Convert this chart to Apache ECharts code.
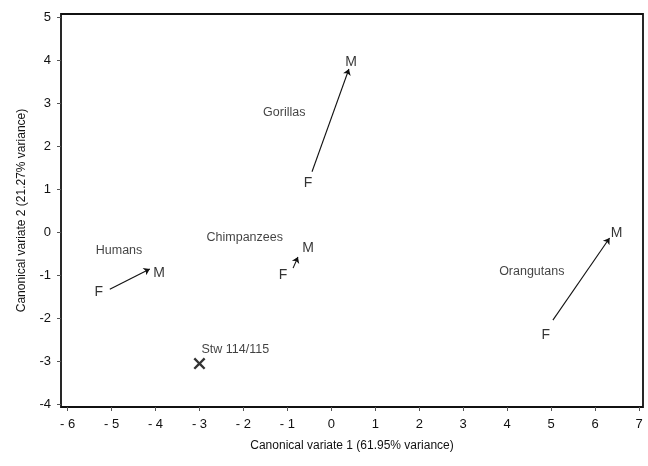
<!DOCTYPE html>
<html><head><meta charset="utf-8">
<script src="https://cdn.jsdelivr.net/npm/echarts@6/dist/echarts.min.js"></script>
<style>html,body{margin:0;padding:0;background:#fff}#c{width:648px;height:466px}</style>
</head><body><div id="c"></div>
<script>
// tick labels
const xTicks = [-6,-5,-4,-3,-2,-1,0,1,2,3,4,5,6,7];
const yTicks = [-4,-3,-2,-1,0,1,2,3,4,5];
// group name labels [x, y, text]
const groupLabels = [
  [-4.83, -0.44, 'Humans'],
  [-1.97, -0.12, 'Chimpanzees'],
  [-1.07, 2.77, 'Gorillas'],
  [4.56, -0.91, 'Orangutans']
];
// sex means [x, y, letter]
const sexPoints = [
  [-5.29, -1.40, 'F'], [-3.92, -0.95, 'M'],
  [-1.10, -1.00, 'F'], [-0.53, -0.37, 'M'],
  [-0.53, 1.14, 'F'], [0.45, 3.95, 'M'],
  [4.88, -2.40, 'F'], [6.49, -0.02, 'M']
];
// arrows F -> M [x1, y1, x2, y2]
const arrows = [
  [-5.04, -1.33, -4.13, -0.86],
  [-0.87, -0.84, -0.76, -0.58],
  [-0.44, 1.40, 0.40, 3.79],
  [5.04, -2.05, 6.33, -0.14]
];
// fossil
const fossil = [[-3.0, -3.06, 'Stw 114/115']];

const font = 'Liberation Sans, Arial, sans-serif';
const chart = echarts.init(document.getElementById('c'));
chart.setOption({
  animation: false,
  grid: {left: 61, right: 5, top: 14, bottom: 59, show: true, borderColor: '#111', borderWidth: 1.8, backgroundColor: '#fff'},
  xAxis: {
    type: 'value', min: -6.15, max: 7.09,
    name: 'Canonical variate 1 (61.95% variance)', nameLocation: 'middle', nameGap: 33, nameMoveOverlap: false,
    nameTextStyle: {fontFamily: font, fontSize: 12, color: '#111'},
    axisLine: {show: false, onZero: false},
    splitLine: {show: false},
    axisTick: {show: true, length: 4, inside: false, lineStyle: {color: '#555'}, customValues: xTicks},
    axisLabel: {customValues: xTicks, fontFamily: font, fontSize: 13, color: '#111', margin: 11,
      formatter: v => (v < 0 ? '- ' + Math.abs(v) : String(v))}
  },
  yAxis: {
    type: 'value', min: -4.07, max: 5.07,
    name: 'Canonical variate 2 (21.27% variance)', nameLocation: 'middle', nameGap: 33,
    nameTextStyle: {fontFamily: font, fontSize: 12, color: '#111'},
    axisLine: {show: false, onZero: false},
    splitLine: {show: false},
    axisTick: {show: true, length: 4, lineStyle: {color: '#555'}, customValues: yTicks},
    axisLabel: {customValues: yTicks, fontFamily: font, fontSize: 13, color: '#111', margin: 10}
  },
  series: [
    {
      type: 'scatter', data: groupLabels, symbolSize: 0, silent: true,
      label: {show: true, position: 'inside', formatter: p => p.data[2], fontFamily: font, fontSize: 12.5, color: '#111'}
    },
    {
      type: 'scatter', data: sexPoints, symbolSize: 0, silent: true,
      label: {show: true, position: 'inside', formatter: p => p.data[2], fontFamily: font, fontSize: 14, color: '#000'}
    },
    {
      type: 'lines', coordinateSystem: 'cartesian2d', silent: true,
      symbol: ['none', 'arrow'], symbolSize: 6,
      lineStyle: {color: '#111', width: 1.1, opacity: 1},
      data: arrows.map(a => ({coords: [[a[0], a[1]], [a[2], a[3]]]}))
    },
    {
      type: 'scatter', data: fossil, silent: true,
      symbol: 'path://M1.4,0L5,3.6L8.6,0L10,1.4L6.4,5L10,8.6L8.6,10L5,6.4L1.4,10L0,8.6L3.6,5L0,1.4Z',
      symbolSize: 12, itemStyle: {color: '#000'},
      label: {show: true, position: [8, -15], formatter: p => p.data[2], fontFamily: font, fontSize: 12.5, color: '#111'}
    }
  ]
});
</script></body></html>
